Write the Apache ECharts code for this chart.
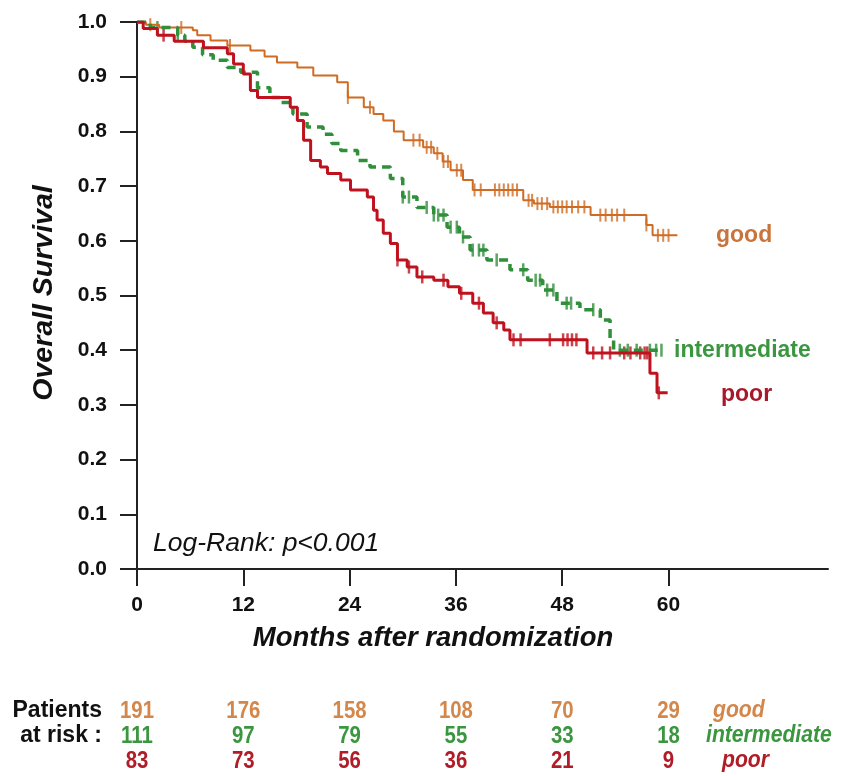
<!DOCTYPE html>
<html>
<head>
<meta charset="utf-8">
<script src="https://cdn.jsdelivr.net/npm/echarts@6/dist/echarts.min.js"></script>
<style>
  html, body { margin: 0; padding: 0; background: #fff; }
  #chart { width: 846px; height: 776px; }
</style>
</head>
<body>
<div id="chart"></div>
<script>
// Kaplan-Meier steps: [month, survival after the drop]
var goodSteps = [
  [0, 1.0], [1.0, 0.995], [2.5, 0.99], [6.3, 0.985], [6.8, 0.976], [8.3, 0.966],
  [10.2, 0.957], [12.8, 0.948], [14.4, 0.937], [15.8, 0.926], [18.1, 0.917],
  [19.9, 0.902], [22.6, 0.89], [23.8, 0.862], [25.6, 0.844], [26.7, 0.832],
  [27.8, 0.82], [29.0, 0.80], [30.1, 0.784], [32.3, 0.771], [33.5, 0.76],
  [34.5, 0.745], [35.4, 0.729], [36.8, 0.711], [37.9, 0.693], [43.6, 0.674],
  [44.8, 0.668], [46.6, 0.662], [51.2, 0.647], [57.5, 0.629], [58.2, 0.61]
];
var goodEnd = 61.0;
var goodCensor = [1.5, 5, 10.5, 23.8, 26.3, 31.2, 31.9, 32.7, 33.2, 33.9, 34.6, 35.1,
  36.1, 36.6, 38.1, 38.8, 40.4, 40.9, 41.4, 41.9, 42.4, 42.9, 44.2, 44.6, 45.2,
  45.7, 46.3, 47.0, 47.5, 48.0, 48.5, 49.1, 49.8, 50.5, 52.3, 52.9, 53.6, 54.2,
  55.0, 57.5, 58.8, 59.4, 60.0];

var interSteps = [
  [0, 1.0], [1.5, 0.99], [4.6, 0.976], [5.4, 0.965], [6.3, 0.954], [7.4, 0.94],
  [8.6, 0.93], [10.2, 0.917], [11.7, 0.908], [13.6, 0.88], [15.0, 0.862],
  [16.1, 0.853], [17.6, 0.832], [19.2, 0.808], [21.0, 0.795], [22.0, 0.778],
  [23.0, 0.765], [24.9, 0.747], [26.3, 0.735], [28.6, 0.714], [30.0, 0.68],
  [31.6, 0.661], [33.5, 0.647], [35.0, 0.625], [36.4, 0.607], [37.6, 0.583],
  [39.5, 0.565], [42.1, 0.547], [44.1, 0.528], [45.8, 0.51], [47.4, 0.486],
  [50.0, 0.474], [52.3, 0.455], [53.4, 0.419], [53.8, 0.40]
];
var interEnd = 59.4;
var interCensor = [2.3, 4.6, 13.6, 30.0, 30.7, 32.7, 33.5, 34.0, 34.6, 35.4, 36.1,
  36.8, 37.9, 38.6, 39.1, 40.6, 43.6, 45.0, 45.5, 46.3, 47.0, 48.5, 49.0, 51.5,
  54.5, 55.4, 56.4, 57.9, 58.6, 59.2];

var poorSteps = [
  [0, 1.0], [0.7, 0.988], [2.3, 0.976], [4.2, 0.965], [7.5, 0.953], [10.2, 0.942],
  [10.9, 0.923], [12.0, 0.905], [12.8, 0.875], [13.6, 0.862], [17.3, 0.844],
  [18.1, 0.82], [18.8, 0.784], [19.6, 0.747], [20.7, 0.735], [21.5, 0.723],
  [23.0, 0.711], [24.1, 0.693], [26.0, 0.68], [26.7, 0.656], [27.1, 0.638],
  [27.8, 0.614], [28.6, 0.595], [29.4, 0.565], [30.5, 0.552], [31.6, 0.534],
  [33.5, 0.528], [35.1, 0.516], [36.4, 0.504], [37.9, 0.486], [39.1, 0.468],
  [40.2, 0.45], [41.4, 0.437], [42.1, 0.419], [50.8, 0.395], [57.9, 0.358],
  [58.7, 0.322]
];
var poorEnd = 59.9;
var poorCensor = [3.0, 29.4, 30.7, 32.2, 34.6, 36.6, 38.6, 40.6, 42.5, 43.3, 46.6,
  48.1, 48.6, 49.1, 49.6, 51.5, 52.5, 53.4, 55.0, 55.7, 56.8, 57.3, 57.6, 58.9];

// patients at risk
var riskMonths = [0, 12, 24, 36, 48, 60];
var riskGood = [191, 176, 158, 108, 70, 29];
var riskInter = [111, 97, 79, 55, 33, 18];
var riskPoor = [83, 73, 56, 36, 21, 9];

var xTicks = [0, 12, 24, 36, 48, 60];

var cGood = "#cf6b22";
var cInter = "#2f8f3a";
var cPoor = "#c0121e";

// curve = steps + final horizontal piece
function curve(steps, end) {
  return steps.concat([[end, steps[steps.length - 1][1]]]);
}
// survival at time t for the censor ticks
function survAt(steps, t) {
  var s = 1;
  for (var i = 0; i < steps.length; i++) {
    if (steps[i][0] <= t) s = steps[i][1];
  }
  return s;
}
function censorPts(steps, times) {
  return times.map(function (t) { return [t, survAt(steps, t)]; });
}

var chart = echarts.init(document.getElementById("chart"));

var font = '"Liberation Sans", Arial, sans-serif';

var option = {
  animation: false,
  grid: { left: 137, right: 18, top: 22, bottom: 207 },
  xAxis: {
    type: "value",
    min: 0,
    max: 78,
    splitLine: { show: false },
    axisLine: { onZero: false, lineStyle: { color: "#222", width: 2 } },
    axisTick: { customValues: xTicks, length: 17, lineStyle: { color: "#222", width: 2 } },
    axisLabel: {
      customValues: xTicks,
      margin: 26,
      color: "#111",
      fontSize: 21,
      fontWeight: "bold",
      fontFamily: font
    }
  },
  yAxis: {
    type: "value",
    min: 0,
    max: 1,
    interval: 0.1,
    splitLine: { show: false },
    axisLine: { show: true, lineStyle: { color: "#222", width: 2 } },
    axisTick: { show: true, length: 17, lineStyle: { color: "#222", width: 2 } },
    axisLabel: {
      margin: 30,
      color: "#111",
      fontSize: 21,
      fontWeight: "bold",
      fontFamily: font,
      formatter: function (v) { return v.toFixed(1); }
    }
  },
  series: [
    {
      name: "good", type: "line", step: "end", showSymbol: false,
      data: curve(goodSteps, goodEnd),
      lineStyle: { color: cGood, width: 2 }
    },
    {
      name: "intermediate", type: "line", step: "end", showSymbol: false,
      data: curve(interSteps, interEnd),
      lineStyle: { color: cInter, width: 3.5, type: [9, 6] }
    },
    {
      name: "poor", type: "line", step: "end", showSymbol: false,
      data: curve(poorSteps, poorEnd),
      lineStyle: { color: cPoor, width: 3 }
    },
    {
      type: "scatter", symbol: "rect", symbolSize: [2, 13],
      data: censorPts(goodSteps, goodCensor),
      itemStyle: { color: cGood }
    },
    {
      type: "scatter", symbol: "rect", symbolSize: [2.5, 13],
      data: censorPts(interSteps, interCensor),
      itemStyle: { color: cInter }
    },
    {
      type: "scatter", symbol: "rect", symbolSize: [2.5, 13],
      data: censorPts(poorSteps, poorCensor),
      itemStyle: { color: cPoor }
    }
  ]
};
chart.setOption(option);

// text around the plot
function txt(x, y, text, opts) {
  var st = {
    text: text,
    x: 0, y: 0,
    fill: opts.color || "#111",
    fontSize: opts.size || 21,
    fontWeight: opts.weight || "bold",
    fontStyle: opts.style || "normal",
    fontFamily: font,
    align: opts.align || "left",
    verticalAlign: "middle"
  };
  return {
    type: "text", x: x, y: y, rotation: opts.rotation || 0,
    scaleX: opts.sx || 1, style: st, silent: true
  };
}

var g = [];
g.push(txt(44, 293, "Overall Survival", { size: 28.5, style: "italic", align: "center", rotation: Math.PI / 2 }));
g.push(txt(433, 638, "Months after randomization", { size: 27.5, style: "italic", align: "center" }));
g.push(txt(153, 544, "Log-Rank: p<0.001", { size: 26.5, style: "italic", weight: "normal" }));

var yGood = chart.convertToPixel({ yAxisIndex: 0 }, goodSteps[goodSteps.length - 1][1]);
var yInter = chart.convertToPixel({ yAxisIndex: 0 }, interSteps[interSteps.length - 1][1]);
var yPoor = chart.convertToPixel({ yAxisIndex: 0 }, poorSteps[poorSteps.length - 1][1]);
g.push(txt(716, yGood, "good", { size: 23, color: "#c8743a" }));
g.push(txt(674, yInter, "intermediate", { size: 23, color: "#3a963f" }));
g.push(txt(721, yPoor + 2, "poor", { size: 23, color: "#a8182a" }));

// patients at risk table
var rows = [
  { y: 711, vals: riskGood, color: "#d4874a", name: "good", nx: 713 },
  { y: 736, vals: riskInter, color: "#3a963f", name: "intermediate", nx: 706 },
  { y: 761, vals: riskPoor, color: "#b01c28", name: "poor", nx: 722 }
];
g.push(txt(102, 711, "Patients", { size: 23, align: "right" }));
g.push(txt(102, 736, "at risk :", { size: 23, align: "right" }));
rows.forEach(function (r) {
  riskMonths.forEach(function (m, i) {
    var px = chart.convertToPixel({ xAxisIndex: 0 }, m);
    g.push(txt(px, r.y, String(r.vals[i]), { size: 24, sx: 0.85, color: r.color, align: "center" }));
  });
  g.push(txt(r.nx, r.y, r.name, { size: 23, sx: 0.92, color: r.color, style: "italic" }));
});

chart.setOption({ graphic: g });
</script>
</body>
</html>
